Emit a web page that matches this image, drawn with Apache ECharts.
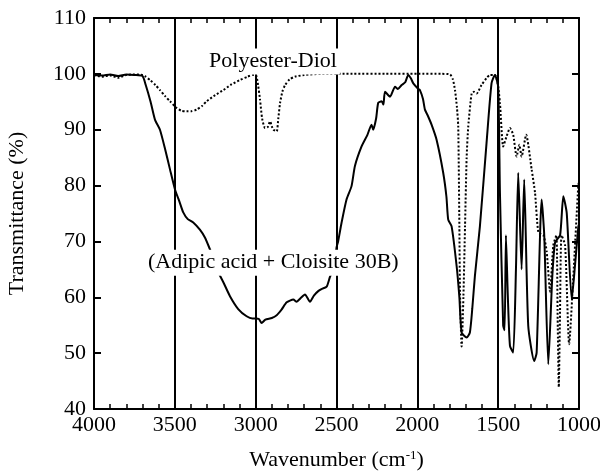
<!DOCTYPE html>
<html>
<head>
<meta charset="utf-8">
<script src="https://cdn.jsdelivr.net/npm/echarts@6/dist/echarts.min.js"></script>
<style>
  html, body { margin: 0; padding: 0; background: #fff; }
  #chart { width: 600px; height: 476px; }
</style>
</head>
<body>
<div id="chart"></div>
<script>
  // FTIR: (Adipic acid + Cloisite 30B) solid, Polyester-Diol dotted
  var adipicWn = [4000, 3950, 3900, 3850, 3800, 3750, 3700, 3680, 3650, 3623, 3592, 3560, 3530, 3499, 3470, 3448, 3420, 3386, 3345, 3314, 3283, 3255, 3231, 3200, 3159, 3108, 3056, 3020, 3000, 2980, 2963, 2940, 2900, 2870, 2840, 2808, 2767, 2747, 2720, 2695, 2664, 2640, 2613, 2590, 2561, 2541, 2510, 2500, 2490, 2469, 2438, 2407, 2386, 2345, 2310, 2283, 2273, 2255, 2242, 2221, 2210, 2200, 2169, 2138, 2120, 2097, 2075, 2056, 2040, 2025, 1994, 1984, 1965, 1953, 1935, 1912, 1881, 1840, 1820, 1809, 1788, 1757, 1740, 1726, 1695, 1675, 1660, 1644, 1613, 1572, 1541, 1520, 1500, 1489, 1469, 1460, 1452, 1440, 1427, 1407, 1390, 1376, 1355, 1339, 1314, 1277, 1262, 1231, 1215, 1190, 1165, 1148, 1117, 1097, 1076, 1045, 1025, 1004, 1000];
  var adipicT = [99.8, 99.7, 99.9, 99.6, 99.9, 99.8, 99.6, 98, 95, 91.8, 90, 86.5, 82.9, 79.3, 77, 75.2, 74, 73.4, 72.1, 70.7, 68.6, 66.5, 64.5, 62.7, 60.2, 57.9, 56.6, 56.2, 56.2, 56.1, 55.4, 56, 56.3, 56.8, 57.8, 59.1, 59.6, 59.2, 59.9, 60.5, 59.2, 60.3, 61.1, 61.5, 61.9, 63.6, 66, 68.9, 70, 73.3, 77.5, 79.9, 83.5, 87, 89, 90.9, 90, 92, 94.8, 95.1, 94.5, 96.8, 95.9, 97.7, 97.3, 98, 98.5, 99.8, 99.2, 98.3, 97.3, 97.1, 95.5, 93.6, 92.5, 90.9, 88.2, 82.3, 78, 73.9, 72.7, 65.6, 60, 53.7, 52.8, 53.7, 58, 63.8, 72.7, 87.6, 98.3, 99.8, 97.7, 78.7, 54.9, 54.1, 71.1, 60, 51.3, 50.1, 65, 82.3, 65, 81.1, 54.9, 48.6, 50.1, 77.5, 71.1, 48, 63.8, 69.8, 71.1, 78.1, 75.1, 59.6, 65.6, 72.7, 73];

  var diolWn = [4000, 3950, 3900, 3850, 3800, 3750, 3700, 3685, 3650, 3620, 3592, 3560, 3530, 3489, 3460, 3427, 3400, 3365, 3330, 3303, 3250, 3200, 3150, 3097, 3050, 3015, 3000, 2994, 2985, 2973, 2960, 2942, 2925, 2911, 2900, 2890, 2870, 2860, 2849, 2835, 2818, 2790, 2757, 2700, 2592, 2400, 2200, 2000, 1850, 1798, 1780, 1767, 1755, 1747, 1740, 1736, 1726, 1715, 1705, 1695, 1685, 1664, 1650, 1633, 1603, 1570, 1551, 1520, 1503, 1489, 1469, 1448, 1427, 1407, 1386, 1369, 1355, 1327, 1293, 1272, 1251, 1220, 1200, 1179, 1159, 1140, 1132, 1125, 1118, 1108, 1086, 1061, 1035, 1004, 1000];
  var diolT = [99.8, 99.5, 99.7, 99.3, 99.8, 99.9, 99.8, 99.6, 98.8, 98, 97.1, 96, 95.1, 93.9, 93.4, 93.3, 93.3, 93.6, 94.3, 95.1, 96.2, 97.1, 98.1, 98.9, 99.5, 99.8, 99.8, 99.5, 98, 95.4, 92, 90.3, 90.5, 91.5, 90.6, 90, 89.7, 92, 94.8, 96.8, 98, 99, 99.5, 99.8, 100, 100, 100, 100, 100, 99.9, 99, 97.1, 94, 90.6, 72.7, 60.8, 51.2, 60, 72.7, 85, 90.6, 96.5, 96.8, 96.5, 98, 99.3, 99.8, 99.8, 98.3, 94.8, 87, 88.8, 90.3, 89.1, 85.2, 87.3, 85.2, 89.1, 82.9, 78.7, 71.6, 71.1, 68.2, 61, 69.3, 71.1, 56, 43.9, 56, 71.1, 69.3, 51.6, 63.8, 80.2, 80.5];

  var xTicks = { min: 1000, max: 4000, interval: 500 };
  var yTicks = { min: 40, max: 110, interval: 10 };

  function pairs(xs, ys) {
    return xs.map(function (x, i) { return [x, ys[i]]; });
  }

  var FONT = '"Liberation Serif", "Times New Roman", serif';
  var myChart = echarts.init(document.getElementById('chart'));

  var xBase = {
    type: 'value',
    inverse: true,
    min: xTicks.min,
    max: xTicks.max,
    interval: xTicks.interval,
    axisLine: { show: true, onZero: false, lineStyle: { color: '#000', width: 2 } },
    axisTick: { show: true, inside: true, length: 7, lineStyle: { color: '#000', width: 2 } },
    minorTick: { show: true, splitNumber: 5, length: 5, lineStyle: { color: '#000', width: 1.5 } },
    splitLine: { show: false }
  };
  var yBase = {
    type: 'value',
    min: yTicks.min,
    max: yTicks.max,
    interval: yTicks.interval,
    axisLine: { show: true, onZero: false, lineStyle: { color: '#000', width: 2 } },
    axisTick: { show: true, inside: true, length: 7, lineStyle: { color: '#000', width: 2 } },
    splitLine: { show: false }
  };

  var options = {
    backgroundColor: '#fff',
    animation: false,
    textStyle: { fontFamily: FONT },
    grid: { left: 94, right: 21, top: 18, bottom: 67, outerBoundsMode: 'none', containLabel: false },
    xAxis: [
      Object.assign({}, xBase, {
        position: 'bottom',
        name: '{a|Wavenumber (cm}{s|-1}{a|)}',
        nameLocation: 'middle',
        nameGap: 40,
        nameTextStyle: {
          rich: {
            a: { fontFamily: FONT, fontSize: 22, color: '#000' },
            s: { fontFamily: FONT, fontSize: 13, color: '#000', verticalAlign: 'top', padding: [0, 0, 10, 0] }
          }
        },
        axisLabel: {
          fontFamily: FONT, fontSize: 22, color: '#000', margin: 5,
          formatter: function (v) { return String(v); }
        },
        splitLine: { show: true, lineStyle: { color: '#000', width: 2 } }
      }),
      Object.assign({}, xBase, { position: 'top', axisLabel: { show: false } })
    ],
    yAxis: [
      Object.assign({}, yBase, {
        position: 'left',
        name: 'Transmittance (%)',
        nameLocation: 'middle',
        nameGap: 66,
        nameRotate: 90,
        nameTextStyle: { fontFamily: FONT, fontSize: 22, color: '#000' },
        axisLabel: { fontFamily: FONT, fontSize: 22, color: '#000', margin: 8 }
      }),
      Object.assign({}, yBase, { position: 'right', axisLabel: { show: false } })
    ],
    series: [{
      name: '(Adipic acid + Cloisite 30B)',
      type: 'line',
      xAxisIndex: 0,
      yAxisIndex: 0,
      showSymbol: false,
      smooth: 0.2,
      lineStyle: { color: '#000', width: 2 },
      data: pairs(adipicWn, adipicT)
    }, {
      name: 'Polyester-Diol',
      type: 'line',
      xAxisIndex: 0,
      yAxisIndex: 0,
      showSymbol: false,
      smooth: 0.2,
      lineStyle: { color: '#000', width: 2, type: [2, 2] },
      data: pairs(diolWn, diolT)
    }]
  };
  myChart.setOption(options);

  // curve labels, placed at data coordinates, white box covers lines beneath
  var labels = [
    { text: 'Polyester-Diol', at: [2893, 102.2] },
    { text: '(Adipic acid + Cloisite 30B)', at: [2891, 66.2] }
  ];
  myChart.setOption({
    graphic: labels.map(function (l) {
      var p = myChart.convertToPixel({ xAxisIndex: 0, yAxisIndex: 0 }, l.at);
      return {
        type: 'text',
        z: 100,
        x: p[0],
        y: p[1],
        style: {
          text: l.text,
          font: '22px "Liberation Serif", serif',
          fill: '#000',
          align: 'center',
          verticalAlign: 'middle',
          backgroundColor: '#fff',
          padding: [2, 3]
        }
      };
    })
  });
</script>
</body>
</html>
